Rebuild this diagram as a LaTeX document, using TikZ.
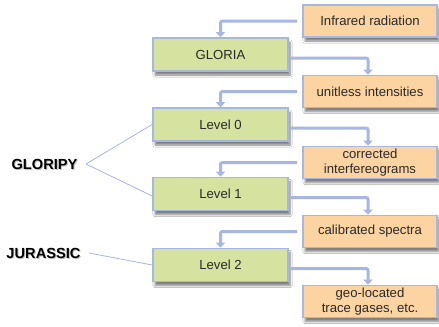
\documentclass[tikz,border=0pt]{standalone}
\usepackage{fontspec}
\setmainfont{Liberation Sans}
\usetikzlibrary{shadows.blur,arrows.meta}
\definecolor{gfill}{HTML}{D5E2A0}
\definecolor{ofill}{HTML}{FBD4A2}
\definecolor{bdr}{HTML}{A7B6E3}
\definecolor{txt}{HTML}{2A2A2A}
\begin{document}
\begin{tikzpicture}[x=1bp,y=-1bp,
  box/.style={draw=bdr,line width=1.6bp,minimum width=134bp,minimum height=32bp,inner sep=1bp,align=center,text=txt,
    font=\fontsize{13.2}{14.5}\selectfont,
    blur shadow={shadow xshift=2bp,shadow yshift=-4bp,shadow blur steps=6,shadow opacity=50}},
  gbox/.style={box,fill=gfill},
  obox/.style={box,fill=ofill},
  conn/.style={draw=bdr,line width=3bp,rounded corners=2bp,-{Triangle[width=9bp,length=5bp]}},
  lbl/.style={font=\fontsize{14.7}{16}\bfseries\selectfont},
  thin/.style={draw=bdr,line width=0.8bp}]
\fill[white] (0,0) rectangle (439,326);
\useasboundingbox (0,0) rectangle (439,326);
% orange boxes
\node[obox] (o1) at (370,21) {Infrared radiation};
\node[obox] (o2) at (370,91.5) {unitless intensities};
\node[obox] (o3) at (370,162.5) {corrected\\interfereograms};
\node[obox] (o4) at (370,231.5) {calibrated spectra};
\node[obox] (o5) at (370,301.5) {geo-located\\trace gases, etc.};
% green boxes
\node[gbox,minimum width=135bp,minimum height=33bp] (g1) at (220.5,54.5) {GLORIA};
\node[gbox,minimum width=135bp,minimum height=33bp] (g2) at (220.5,124.5) {Level 0};
\node[gbox,minimum width=135bp,minimum height=33bp] (g3) at (220.5,194) {Level 1};
\node[gbox,minimum width=135bp,minimum height=33bp] (g4) at (220.5,265) {Level 2};
% connectors orange -> green
\draw[conn,shorten <=5bp] (o1.west) -| (g1.north);
\draw[conn,shorten <=5bp] (o2.west) -| (g2.north);
\draw[conn,shorten <=5bp] (o3.west) -| (g3.north);
\draw[conn,shorten <=5bp] (o4.west) -| (g4.north);
% connectors green -> orange
\draw[conn,shorten <=2bp] ([yshift=-3.5bp]g1.east) -| ([xshift=-2bp]o2.north);
\draw[conn,shorten <=2bp] ([yshift=-3.5bp]g2.east) -| ([xshift=-2bp]o3.north);
\draw[conn,shorten <=2bp] ([yshift=-3.5bp]g3.east) -| ([xshift=-2bp]o4.north);
\draw[conn,shorten <=2bp] ([yshift=-3.5bp]g4.east) -| ([xshift=-2bp]o5.north);
% labels
\node[lbl,text=black!35,opacity=0.7] at (45.5,165.5) {GLORIPY};
\node[lbl] (gp) at (44.5,164) {GLORIPY};
\node[lbl,text=black!35,opacity=0.7] at (44.5,254.5) {JURASSIC};
\node[lbl] (jr) at (43.5,253) {JURASSIC};
\draw[thin] ([xshift=5bp]gp.east) -- (g2.west);
\draw[thin] ([xshift=5bp]gp.east) -- ([yshift=-2bp]g3.west);
\draw[thin] ([xshift=5bp]jr.east) -- (g4.west);
\end{tikzpicture}
\end{document}
